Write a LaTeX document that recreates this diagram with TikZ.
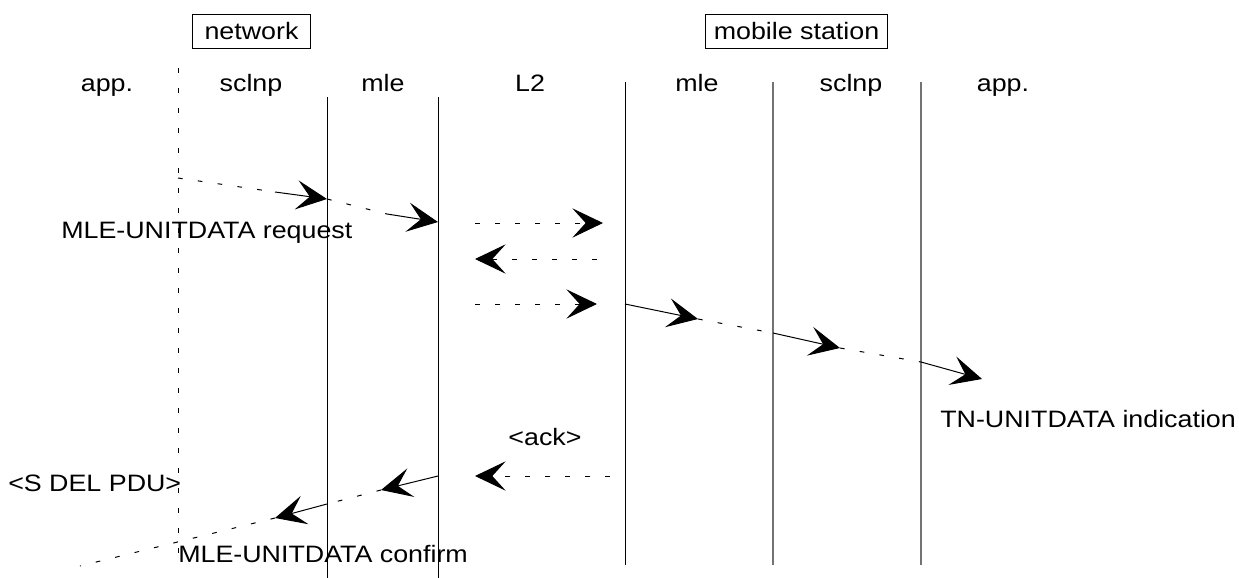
\documentclass[tikz,border=0pt]{standalone}
\usepackage{fontspec}
\setmainfont{Liberation Sans}
\usetikzlibrary{arrows.meta}
\newcommand{\tx}[1]{\scalebox{1.13}[1]{#1}}
\begin{document}
\begin{tikzpicture}[x=0.75pt,y=-0.75pt,
  lbl/.style={font=\fontsize{17.8}{20}\selectfont, inner sep=0pt},
  boxlbl/.style={lbl, draw, line width=0.75pt, minimum height=25.5pt},
  life/.style={line width=0.75pt},
  lifeg/.style={line width=1pt, black!55},
  dsh/.style={line width=0.75pt, dash pattern=on 3.5pt off 11.5pt},
  sol/.style={line width=0.75pt},
  tip/.style={-{Stealth[length=23pt,width=22pt,inset=10pt]}},
]
\useasboundingbox (0,0) rectangle (1239,578);

% header boxes
\node[boxlbl, minimum width=89pt] (net) at (251.5,31.5) {\tx{network}};
\node[boxlbl, minimum width=137pt] (ms) at (796.5,31.5) {\tx{mobile station}};

% column labels
\node[lbl, anchor=base] (c1) at (107,91) {\tx{app.}};
\node[lbl, anchor=base] (c2) at (251,91) {\tx{sclnp}};
\node[lbl, anchor=base] (c3) at (383,91) {\tx{mle}};
\node[lbl, anchor=base] (c4) at (530,91) {\tx{L2}};
\node[lbl, anchor=base] (c5) at (697,91) {\tx{mle}};
\node[lbl, anchor=base] (c6) at (851,91) {\tx{sclnp}};
\node[lbl, anchor=base] (c7) at (1003,91) {\tx{app.}};

% lifelines
\coordinate (l1t) at (178,68);  \coordinate (l1b) at (178,556);
\coordinate (l2t) at (327,97);  \coordinate (l2b) at (327,578);
\coordinate (l3t) at (438,97);  \coordinate (l3b) at (438,578);
\coordinate (l4t) at (625,82);  \coordinate (l4b) at (625,565);
\coordinate (l5t) at (773,82);  \coordinate (l5b) at (773,565);
\coordinate (l6t) at (921,82);  \coordinate (l6b) at (921,565);
\draw[dsh] (l1t) -- (l1b);
\draw[life] (l2t) -- (l2b);
\draw[life] (l3t) -- (l3b);
\draw[life] (l4t) -- (l4b);
\draw[lifeg] (l5t) -- (l5b);
\draw[lifeg] (l6t) -- (l6b);

% request
\coordinate (r1s) at (178,178); \coordinate (r1m) at (275,192); \coordinate (r1e) at (327,199);
\coordinate (r2m) at (387,214); \coordinate (r2e) at (438,222);
\draw[dsh] (r1s) -- (r1m); \draw[sol,tip] (r1m) -- (r1e);
\draw[dsh] (r1e) -- (r2m); \draw[sol,tip] (r2m) -- (r2e);
\node[lbl, anchor=base west] (req) at (61,238) {\tx{MLE-UNITDATA request}};

% L2 exchanges
\coordinate (h1s) at (475,223); \coordinate (h1e) at (603,223);
\coordinate (h2s) at (597,259); \coordinate (h2e) at (475,259);
\coordinate (h3s) at (475,304); \coordinate (h3e) at (597,304);
\draw[dsh,tip] (h1s) -- (h1e);
\draw[dsh,tip] (h2s) -- (h2e);
\draw[dsh,tip] (h3s) -- (h3e);

% indication
\coordinate (i1s) at (625,304); \coordinate (i1e) at (698,319);
\coordinate (i2s) at (773,333); \coordinate (i2e) at (840,348);
\coordinate (i3s) at (921,362); \coordinate (i3e) at (982,379);
\draw[sol,tip] (i1s) -- (i1e); \draw[dsh] (i1e) -- (i2s);
\draw[sol,tip] (i2s) -- (i2e); \draw[dsh] (i2e) -- (i3s);
\draw[sol,tip] (i3s) -- (i3e);
\node[lbl, anchor=base west] (ind) at (940,427) {\tx{TN-UNITDATA indication}};

% ack
\node[lbl, anchor=base] (ack) at (545,445) {\tx{<ack>}};
\coordinate (k1s) at (610,476); \coordinate (k1e) at (475,476);
\draw[dsh,tip] (k1s) -- (k1e);

% confirm
\coordinate (f1s) at (438,476); \coordinate (f1e) at (381,490);
\coordinate (f2s) at (327,504); \coordinate (f2e) at (275,518);
\coordinate (f3e) at (80,566);
\draw[sol,tip] (f1s) -- (f1e); \draw[dsh] (f1e) -- (f2s);
\draw[sol,tip] (f2s) -- (f2e); \draw[dsh] (f2e) -- (f3e);
\node[lbl, anchor=base west] (del) at (8,491) {\tx{<S DEL PDU>}};
\node[lbl, anchor=base west] (conf) at (178,562) {\tx{MLE-UNITDATA confirm}};
\end{tikzpicture}
\end{document}
